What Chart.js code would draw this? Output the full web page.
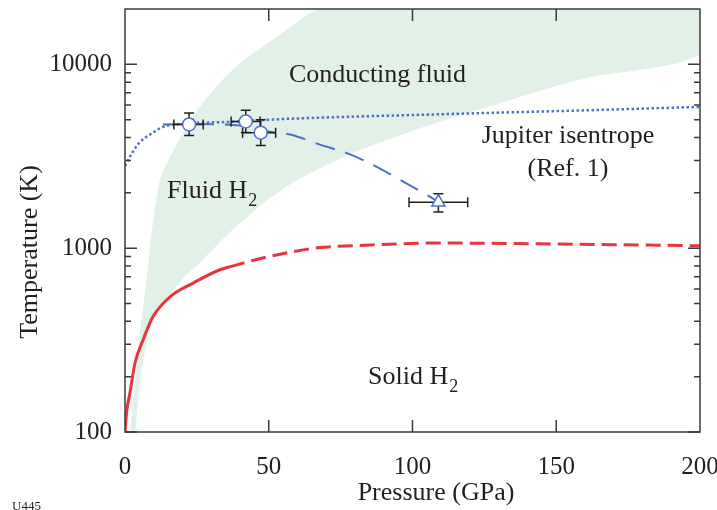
<!DOCTYPE html>
<html>
<head>
<meta charset="utf-8">
<script src="https://cdn.jsdelivr.net/npm/chart.js@4.4.1/dist/chart.umd.min.js"></script>
<style>
  html, body { margin: 0; padding: 0; background: #fff; }
</style>
</head>
<body>
<canvas id="phaseChart" width="717" height="510"></canvas>
<script>
// axes
const pressureTicks = [0, 50, 100, 150, 200]
const pressureTickMarks = [50, 100, 150]
const tempTicks = [100, 1000, 10000]
const tempMinor = [200, 300, 400, 500, 600, 700, 800, 900, 2000, 3000, 4000, 5000, 6000, 7000, 8000, 9000]

// green band, left (upper) edge then lower edge
const bandLeftP = [1.8, 5.2, 7.5, 9.3, 12, 15.7, 20.3, 26.1, 37.6, 55, 68.9, 200]
const bandLeftT = [100, 347, 673, 1213, 2300, 3150, 4260, 5900, 9400, 14900, 20000, 20000]
const bandLowP = [3.6, 5.5, 8, 10.5, 13.2, 20, 27.1, 36, 44, 50, 60, 78.3, 101.6, 123.5, 158.3, 200]
const bandLowT = [100, 200, 330, 430, 505, 680, 865, 1200, 1550, 1850, 2350, 3240, 4430, 5690, 8280, 11300]

// melting line (solid up to meltMeasuredTo, dashed after)
const meltP = [0, 0.6, 1.7, 3.5, 6.3, 9.7, 15.7, 24, 33, 36.5, 50, 67.8, 80, 109.6, 136.2, 170, 200]
const meltT = [100, 130, 163, 238, 317, 423, 545, 650, 763, 792, 900, 1007, 1032, 1067, 1059, 1045, 1030]
const meltMeasuredTo = 35

// Jupiter isentrope
const isenP = [0, 2.5, 5, 8.7, 13, 20, 37.6, 50, 68, 100, 130, 160, 200]
const isenT = [2800, 3300, 3750, 4150, 4550, 4750, 4870, 5000, 5130, 5300, 5460, 5620, 5870]

// trend through the shock data
const trendP = [13.2, 25, 40, 50, 57.4, 67.8, 78.3, 88.7, 98, 104.3, 114.2]
const trendT = [4710, 4730, 4650, 4310, 4150, 3660, 3240, 2710, 2245, 1980, 1585]

// measurements with error bars
const circleP = [22.3, 42.0, 47.2]
const circleT = [4710, 4890, 4250]
const circlePLo = [17.0, 36.9, 40.9]
const circlePHi = [27.2, 47.0, 52.4]
const circleTLo = [4100, 4260, 3620]
const circleTHi = [5440, 5630, 5000]

const triP = [109.0]
const triT = [1780]
const triPLo = [98.8]
const triPHi = [119.2]
const triTLo = [1575]
const triTHi = [1980]

const ink = '#231f20'
const blue = '#4d6fc6'
const red = '#e5353d'
const green = '#e2f1e7'
const serif = '"Liberation Serif", "DejaVu Serif", serif'

function pts(xs, ys) { return xs.map((x, i) => ({ x: x, y: ys[i] })) }
function errs(p, t, pl, ph, tl, th) {
  return p.map((v, i) => ({ p: v, t: t[i], pLo: pl[i], pHi: ph[i], tLo: tl[i], tHi: th[i] }))
}

const bandPts = pts(bandLeftP, bandLeftT).concat(pts(bandLowP, bandLowT).reverse())

const errorBars = {
  id: 'errorBars',
  beforeDatasetDraw(chart, args) {
    const ds = chart.data.datasets[args.index]
    if (!ds.err) return
    const xs = chart.scales.x, ys = chart.scales.y, c = chart.ctx
    c.save()
    c.strokeStyle = ink
    c.lineWidth = 1.5
    ds.err.forEach(e => {
      const x = xs.getPixelForValue(e.p), y = ys.getPixelForValue(e.t)
      const x0 = xs.getPixelForValue(e.pLo), x1 = xs.getPixelForValue(e.pHi)
      const y0 = ys.getPixelForValue(e.tLo), y1 = ys.getPixelForValue(e.tHi)
      c.beginPath()
      c.moveTo(x0, y); c.lineTo(x1, y)
      c.moveTo(x, y0); c.lineTo(x, y1)
      c.moveTo(x0, y - 5); c.lineTo(x0, y + 5)
      c.moveTo(x1, y - 5); c.lineTo(x1, y + 5)
      c.moveTo(x - 5, y0); c.lineTo(x + 5, y0)
      c.moveTo(x - 5, y1); c.lineTo(x + 5, y1)
      c.stroke()
    })
    c.restore()
  }
}

const frame = {
  id: 'frame',
  afterDatasetsDraw(chart) {
    const c = chart.ctx, a = chart.chartArea
    const xs = chart.scales.x, ys = chart.scales.y
    c.save()
    c.strokeStyle = '#3b3b3b'
    c.lineWidth = 1.5
    c.strokeRect(a.left, a.top, a.right - a.left, a.bottom - a.top)
    c.beginPath()
    pressureTickMarks.forEach(v => {
      const px = xs.getPixelForValue(v)
      c.moveTo(px, a.bottom); c.lineTo(px, a.bottom - 12)
      c.moveTo(px, a.top); c.lineTo(px, a.top + 12)
    })
    tempTicks.forEach(v => {
      const py = ys.getPixelForValue(v)
      c.moveTo(a.left, py); c.lineTo(a.left + 12, py)
      c.moveTo(a.right, py); c.lineTo(a.right - 12, py)
    })
    tempMinor.forEach(v => {
      const py = ys.getPixelForValue(v)
      c.moveTo(a.left, py); c.lineTo(a.left + 6, py)
      c.moveTo(a.right, py); c.lineTo(a.right - 6, py)
    })
    c.stroke()
    c.restore()
  },
  afterDraw(chart) {
    const c = chart.ctx
    c.save()
    c.fillStyle = ink
    c.textBaseline = 'alphabetic'
    c.font = '26px ' + serif

    function withSub(txt, x, y) {
      c.font = '26px ' + serif
      c.textAlign = 'left'
      c.fillText(txt, x, y)
      const w = c.measureText(txt).width
      c.font = '18px ' + serif
      c.fillText('2', x + w + 1, y + 8)
      c.font = '26px ' + serif
    }

    c.textAlign = 'left'
    c.fillText('Conducting fluid', 289, 82)
    withSub('Fluid H', 167, 198)
    withSub('Solid H', 368, 384)
    c.textAlign = 'center'
    c.fillText('Jupiter isentrope', 568, 143)
    c.fillText('(Ref. 1)', 568, 176)

    c.textBaseline = 'middle'
    c.fillText('Pressure (GPa)', 436, 493)
    c.save()
    c.translate(30, 252)
    c.rotate(-Math.PI / 2)
    c.fillText('Temperature (K)', 0, 0)
    c.restore()

    c.font = '13px ' + serif
    c.textAlign = 'left'
    c.textBaseline = 'top'
    c.fillText('U445', 12, 500)
    c.restore()
  }
}

const ctx = document.getElementById('phaseChart')

const phase = new Chart(ctx, {
  type: 'scatter',
  data: {
    datasets: [
      {
        label: 'band',
        data: bandPts,
        showLine: true,
        fill: 'shape',
        backgroundColor: green,
        borderWidth: 0,
        borderColor: 'rgba(0,0,0,0)',
        pointRadius: 0,
        tension: 0.3,
        order: 10
      },
      {
        label: 'melt',
        data: pts(meltP, meltT),
        showLine: true,
        borderColor: red,
        borderWidth: 3,
        pointRadius: 0,
        cubicInterpolationMode: 'monotone',
        segment: {
          borderDash: s => s.p0.parsed.x >= meltMeasuredTo ? [15, 7] : undefined
        },
        order: 6
      },
      {
        label: 'isentrope',
        data: pts(isenP, isenT),
        showLine: true,
        borderColor: blue,
        borderWidth: 2.5,
        borderDash: [2.5, 2.5],
        pointRadius: 0,
        cubicInterpolationMode: 'monotone',
        order: 5
      },
      {
        label: 'trend',
        data: pts(trendP, trendT),
        showLine: true,
        borderColor: blue,
        borderWidth: 2,
        borderDash: [20, 11],
        pointRadius: 0,
        cubicInterpolationMode: 'monotone',
        order: 4
      },
      {
        label: 'shock',
        data: pts(circleP, circleT),
        err: errs(circleP, circleT, circlePLo, circlePHi, circleTLo, circleTHi),
        pointStyle: 'circle',
        pointRadius: 6.5,
        pointBackgroundColor: '#fff',
        pointBorderColor: blue,
        pointBorderWidth: 1.5,
        order: 2
      },
      {
        label: 'gasgun',
        data: pts(triP, triT),
        err: errs(triP, triT, triPLo, triPHi, triTLo, triTHi),
        pointStyle: 'triangle',
        pointRadius: 7.5,
        pointBackgroundColor: '#fff',
        pointBorderColor: blue,
        pointBorderWidth: 1.5,
        order: 1
      }
    ]
  },
  options: {
    responsive: false,
    animation: false,
    events: [],
    layout: { padding: { top: 9, right: 17, left: 0, bottom: 0 } },
    plugins: {
      legend: { display: false },
      tooltip: { enabled: false }
    },
    scales: {
      x: {
        type: 'linear',
        min: 0,
        max: 200,
        grid: { display: false, drawTicks: false },
        border: { display: false },
        afterBuildTicks: s => { s.ticks = pressureTicks.map(v => ({ value: v })) },
        afterFit: s => { s.height = 78; s.paddingLeft = 0; s.paddingRight = 0 },
        ticks: {
          color: ink,
          font: { family: serif, size: 25 },
          padding: 20,
          maxRotation: 0
        }
      },
      y: {
        type: 'logarithmic',
        min: 100,
        max: 20000,
        grid: { display: false, drawTicks: false },
        border: { display: false },
        afterBuildTicks: s => { s.ticks = tempTicks.map(v => ({ value: v })) },
        afterFit: s => { s.width = 125; s.paddingTop = 0; s.paddingBottom = 0 },
        ticks: {
          color: ink,
          font: { family: serif, size: 25 },
          padding: 13,
          callback: v => String(v)
        }
      }
    }
  },
  plugins: [errorBars, frame]
})
</script>
</body>
</html>
